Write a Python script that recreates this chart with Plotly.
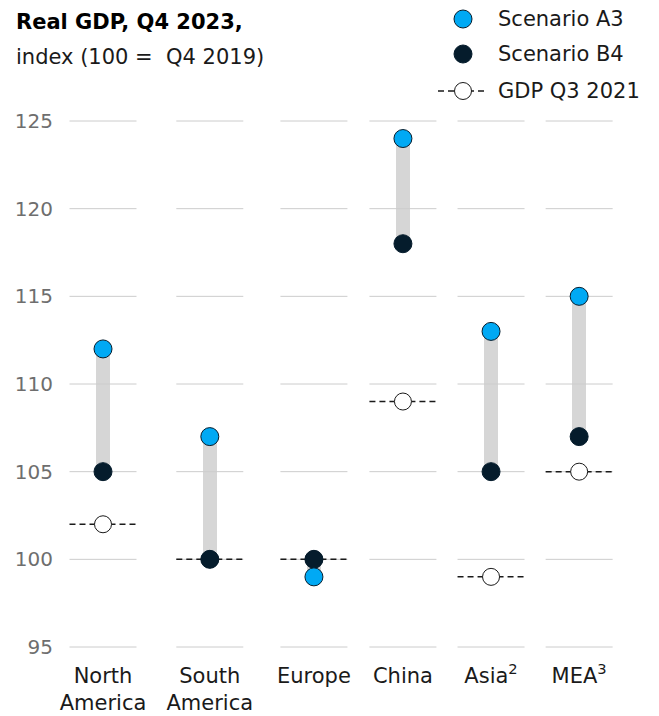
import plotly.graph_objects as go

# ---------------- data ----------------
regions = ["North<br>America", "South<br>America", "Europe", "China", "Asia<sup>2</sup>", "MEA<sup>3</sup>"]
scenario_a3 = [112, 107, 99, 124, 113, 115]
scenario_b4 = [105, 100, 100, 118, 105, 107]
gdp_q3_2021 = [102, 100, 100, 109, 99, 105]
y_ticks = [95, 100, 105, 110, 115, 120, 125]

# ---------------- layout constants ----------------
W, H = 659, 716
FONT = "DejaVu Sans"
FS = 21
BLUE = "#00A9F4"
NAVY = "#051C2C"
GRID = "#cccccc"
BARC = "#d6d6d6"

# column slot positions (in column units)
slot_pos = [0, 1.2, 2.37, 3.37, 4.36, 5.35]
PX_UNIT = 89.0          # pixels per column unit
X0_PX = 103.0           # pixel of first column
PLOT_L, PLOT_R = 60, 640
PLOT_T, PLOT_B = 105, 655
Y_TOP_PX, Y_TOP_V = 121.0, 125.0
Y_BOT_PX, Y_BOT_V = 647.0, 95.0

px_per_val = (Y_BOT_PX - Y_TOP_PX) / (Y_TOP_V - Y_BOT_V)
y_range = [Y_BOT_V - (PLOT_B - Y_BOT_PX) / px_per_val, Y_TOP_V + (Y_TOP_PX - PLOT_T) / px_per_val]
x_range = [(PLOT_L - X0_PX) / PX_UNIT, (PLOT_R - X0_PX) / PX_UNIT]
seg_half = 33.5 / PX_UNIT
bar_w = 14 / PX_UNIT

fig = go.Figure()

# range bars
fig.add_trace(go.Bar(
    x=slot_pos,
    y=[abs(a - b) for a, b in zip(scenario_a3, scenario_b4)],
    base=[min(a, b) for a, b in zip(scenario_a3, scenario_b4)],
    width=bar_w, marker=dict(color=BARC, line=dict(width=0)),
    showlegend=False, hoverinfo="skip"))

# segmented gridlines
gx, gy = [], []
for t in y_ticks:
    for p in slot_pos:
        gx += [p - seg_half, p + seg_half, None]
        gy += [t, t, None]
fig.add_trace(go.Scatter(x=gx, y=gy, mode="lines", line=dict(color=GRID, width=1),
                         showlegend=False, hoverinfo="skip"))

# GDP Q3 2021 dashed segments
dx, dy = [], []
for p, v in zip(slot_pos, gdp_q3_2021):
    dx += [p - seg_half, p + seg_half, None]
    dy += [v, v, None]
fig.add_trace(go.Scatter(x=dx, y=dy, mode="lines",
                         line=dict(color="#1a1a1a", width=1.5, dash="6px,4px"),
                         showlegend=False, hoverinfo="skip"))
fig.add_trace(go.Scatter(x=slot_pos, y=gdp_q3_2021, mode="markers",
                         marker=dict(size=17, color="white", line=dict(color="#1a1a1a", width=1)),
                         showlegend=False, cliponaxis=False))

fig.add_trace(go.Scatter(x=slot_pos, y=scenario_b4, mode="markers",
                         marker=dict(size=18, color=NAVY, line=dict(color=NAVY, width=1)),
                         showlegend=False, cliponaxis=False))
fig.add_trace(go.Scatter(x=slot_pos, y=scenario_a3, mode="markers",
                         marker=dict(size=18, color=BLUE, line=dict(color=NAVY, width=1)),
                         showlegend=False, cliponaxis=False))

# ---------------- custom legend on overlay axes (pixel coords) ----------------
LEG_X = 463
LEG_ROWS = [19, 54, 91]
fig.add_trace(go.Scatter(x=[LEG_X], y=[LEG_ROWS[0]], xaxis="x2", yaxis="y2", mode="markers",
                         marker=dict(size=18, color=BLUE, line=dict(color=NAVY, width=1)),
                         showlegend=False, hoverinfo="skip", cliponaxis=False))
fig.add_trace(go.Scatter(x=[LEG_X], y=[LEG_ROWS[1]], xaxis="x2", yaxis="y2", mode="markers",
                         marker=dict(size=18, color=NAVY, line=dict(color=NAVY, width=1)),
                         showlegend=False, hoverinfo="skip", cliponaxis=False))
fig.add_trace(go.Scatter(x=[LEG_X - 25, LEG_X + 24], y=[LEG_ROWS[2]] * 2, xaxis="x2", yaxis="y2",
                         mode="lines", line=dict(color="#1a1a1a", width=1.5, dash="6px,4px"),
                         showlegend=False, hoverinfo="skip", cliponaxis=False))
fig.add_trace(go.Scatter(x=[LEG_X], y=[LEG_ROWS[2]], xaxis="x2", yaxis="y2", mode="markers",
                         marker=dict(size=17, color="white", line=dict(color="#1a1a1a", width=1)),
                         showlegend=False, hoverinfo="skip", cliponaxis=False))

annos = []
for txt, yy in zip(["Scenario A3", "Scenario B4", "GDP Q3 2021"], LEG_ROWS):
    annos.append(dict(x=496, y=yy, xref="x2", yref="y2", text=txt, showarrow=False,
                      xanchor="left", yanchor="middle", font=dict(family=FONT, size=FS, color="#1a1a1a")))
annos.append(dict(x=14, y=22, xref="x2", yref="y2", text="<b>Real GDP, Q4 2023,</b>", showarrow=False,
                  xanchor="left", yanchor="middle", font=dict(family=FONT, size=FS, color="#000000")))
annos.append(dict(x=14, y=57, xref="x2", yref="y2", text="index (100 =  Q4 2019)", showarrow=False,
                  xanchor="left", yanchor="middle", font=dict(family=FONT, size=FS, color="#1a1a1a")))

paper_h = PLOT_B
fig.update_layout(
    width=W, height=H,
    margin=dict(l=0, r=0, t=0, b=H - PLOT_B),
    paper_bgcolor="white", plot_bgcolor="rgba(0,0,0,0)",
    font=dict(family=FONT, size=FS, color="#1a1a1a"),
    showlegend=False,
    bargap=0,
    annotations=annos,
    xaxis=dict(domain=[PLOT_L / W, PLOT_R / W], range=x_range, tickmode="array",
               tickvals=slot_pos, ticktext=regions, showgrid=False, zeroline=False,
               showline=False, ticks="", ticklabelstandoff=6,
               tickfont=dict(family=FONT, size=FS, color="#1a1a1a"), fixedrange=True),
    yaxis=dict(domain=[0, (PLOT_B - PLOT_T) / paper_h], range=y_range, tickmode="array",
               tickvals=y_ticks, showgrid=False, zeroline=False, showline=False, ticks="",
               ticklabelstandoff=6, tickfont=dict(family=FONT, size=20, color="#6e6e6e"),
               fixedrange=True),
    xaxis2=dict(domain=[0, 1], range=[0, W], visible=False, anchor="y2", fixedrange=True),
    yaxis2=dict(domain=[0, 1], range=[paper_h, 0], visible=False, anchor="x2", fixedrange=True),
)

fig.write_html("out.html", config={"displayModeBar": False},
               post_script="document.body.style.margin='0';document.body.style.overflow='hidden';")
